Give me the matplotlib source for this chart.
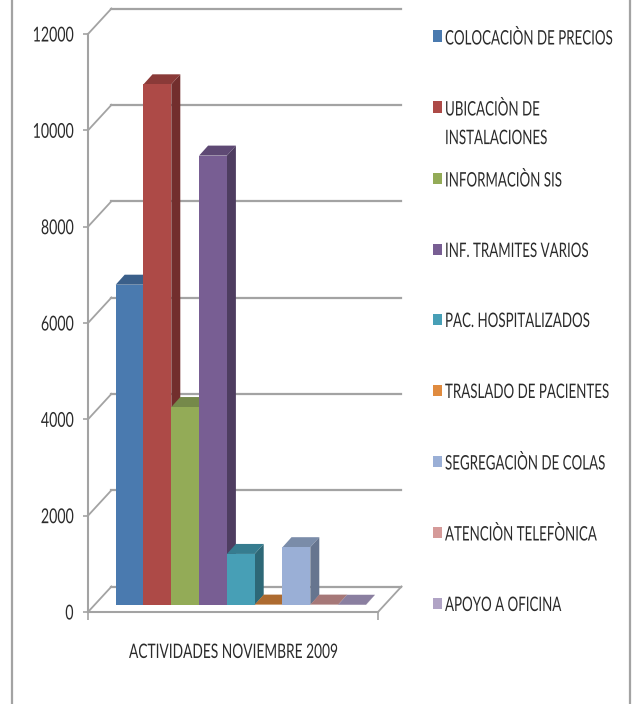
import matplotlib
matplotlib.use("Agg")
import matplotlib.pyplot as plt
from matplotlib.lines import Line2D
from matplotlib.patches import Rectangle
from matplotlib.patheffects import AbstractPathEffect
from matplotlib.transforms import Affine2D

# datos
actividades = ['COLOCACIÒN DE PRECIOS', 'UBICACIÒN DE\nINSTALACIONES', 'INFORMACIÒN SIS',
               'INF. TRAMITES VARIOS', 'PAC. HOSPITALIZADOS', 'TRASLADO DE PACIENTES',
               'SEGREGACIÒN DE COLAS', 'ATENCIÒN TELEFÒNICA', 'APOYO A OFICINA']
valores = [6650, 10810, 4110, 9330, 1060, 8, 1200, 8, 5]
y_ticks = [0, 2000, 4000, 6000, 8000, 10000, 12000]

frente = ['#4A7AAF', '#AD4A47', '#93AB57', '#785E93', '#479FB6', '#E08B3F', '#9AAFD6', '#D59A99', '#B0A3C5']
arriba = ['#3A5F8A', '#8A3A38', '#75894A', '#5E4974', '#367C8F', '#AD6B30', '#7A8CA9', '#A67878', '#8A7FA0']
lado = ['#36597F', '#722E2D', '#62733A', '#4E3D60', '#2D6877', '#915A28', '#66758F', '#8B6464', '#736A86']

gris = '#A3A3A3'
tinta = '#2B2B2B'
W, H = 633, 704

plt.rcParams['font.family'] = ['Lato', 'DejaVu Sans']


class Alto(AbstractPathEffect):
    # el texto original es angosto y alto: estira cada letra en vertical
    def __init__(self, k, bajar=0):
        self.k = k
        self.bajar = bajar

    def draw_path(self, renderer, gc, tpath, affine, rgbFace=None):
        t = Affine2D().scale(1, self.k) + affine + Affine2D().translate(0, -self.bajar)
        renderer.draw_path(gc, tpath, t, rgbFace)


fig = plt.figure(figsize=(W / 100, H / 100), dpi=100)
ax = fig.add_axes([88 / W, 1 - 612 / H, 290 / W, 578 / H])

# escala: pixeles por unidad de cada eje
px_x = 27.8
px_y = 578 / 12000
x0, x1 = -27.7 / px_x, 262.3 / px_x
ax.set_xlim(x0, x1)
ax.set_ylim(0, 12000)

# pared del fondo y lineas de division
fondo_x = 23.5 / px_x
fondo_y = 25.5 / px_y
for t in y_ticks:
    ax.plot([x0, x0 + fondo_x], [t, t + fondo_y], color=gris, lw=1.3, clip_on=False, zorder=1)
    ax.plot([x0 + fondo_x, x1 + fondo_x], [t + fondo_y, t + fondo_y], color=gris, lw=1.6, clip_on=False, zorder=1)
ax.plot([x1, x1 + fondo_x], [0, fondo_y], color=gris, lw=1.3, clip_on=False, zorder=1)

# barras con efecto 3D
base = 7 / px_y
prof_x = 9 / px_x
prof_y = 10 / px_y
for i, v in enumerate(valores):
    z = 3 + i
    tope = base + v
    ax.fill([i, i + 1, i + 1 + prof_x, i + prof_x], [tope, tope, tope + prof_y, tope + prof_y],
            color=arriba[i], lw=0, clip_on=False, zorder=z)
    ax.fill([i + 1, i + 1 + prof_x, i + 1 + prof_x, i + 1],
            [base, base + prof_y, tope + prof_y, tope],
            color=lado[i], lw=0, clip_on=False, zorder=z)
    ax.bar(i, v, width=1, bottom=base, align='edge', color=frente[i], clip_on=False, zorder=z)

for s in ['top', 'right']:
    ax.spines[s].set_visible(False)
for s in ['left', 'bottom']:
    ax.spines[s].set_color(gris)
    ax.spines[s].set_linewidth(1.5)
ax.set_yticks(y_ticks)
ax.set_xticks([x0, x1])
ax.set_xticklabels([])
ax.tick_params(axis='y', length=3.5, width=1.2, color=gris, labelsize=10.2, labelcolor=tinta, pad=7)
ax.tick_params(axis='x', length=6, width=1.2, color=gris)
for lab in ax.get_yticklabels():
    lab.set_path_effects([Alto(1.45, bajar=2.5)])
ax.set_xlabel('ACTIVIDADES NOVIEMBRE 2009', fontsize=9.9, color=tinta, labelpad=16.4,
              path_effects=[Alto(1.45)])

# leyenda
pos_y = [37, 108, 179, 250, 320, 391, 462, 533, 604]
for nombre, color, y in zip(actividades, frente, pos_y):
    fig.add_artist(Rectangle((433 / W, 1 - (y + 5) / H), 9.5 / W, 11.5 / H, color=color, lw=0))
    fig.text(445 / W, 1 - (y - 3) / H, nombre, fontsize=9.6, color=tinta, va='top', ha='left',
             linespacing=2.66, path_effects=[Alto(1.5)])

# marco exterior
fig.add_artist(Line2D([12 / W, 12 / W], [0, 1], color=gris, lw=1.6))
fig.add_artist(Line2D([630 / W, 630 / W], [0, 1], color=gris, lw=1.6))

fig.savefig('out.png', dpi=100)
